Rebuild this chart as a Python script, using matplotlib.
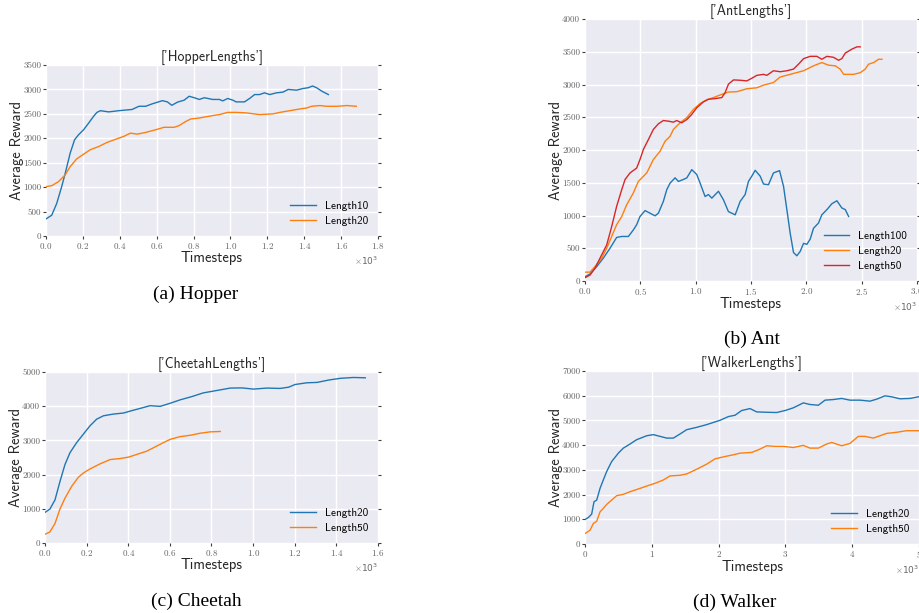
import matplotlib
matplotlib.use("Agg")
import matplotlib.pyplot as plt
from matplotlib.ticker import ScalarFormatter, MultipleLocator

# ---- data (x in timesteps, y in average reward) ----
hopper_x10 = [0, 31, 58, 85, 104, 131, 155, 176, 204, 231, 258, 276, 295, 340, 395, 467, 504, 540,
              576, 631, 658, 682, 713, 749, 776, 804, 831, 858, 904, 940, 958, 985, 1013, 1031, 1076,
              1104, 1131, 1158, 1185, 1213, 1249, 1285, 1313, 1358, 1395, 1422, 1445, 1467, 1495, 1531]
hopper_y10 = [350, 425, 665, 1010, 1280, 1695, 1970, 2070, 2175, 2310, 2450, 2530, 2565, 2540, 2565,
              2590, 2655, 2655, 2705, 2770, 2745, 2675, 2740, 2780, 2860, 2830, 2795, 2830, 2795, 2795,
              2765, 2815, 2780, 2745, 2745, 2815, 2895, 2895, 2930, 2895, 2930, 2945, 3000, 2985, 3020,
              3035, 3070, 3035, 2965, 2895]
hopper_x20 = [0, 31, 67, 104, 131, 167, 204, 240, 285, 331, 385, 422, 458, 495, 540, 595, 640, 695,
              722, 758, 785, 831, 904, 940, 985, 1031, 1085, 1158, 1231, 1267, 1322, 1376, 1413, 1440,
              1485, 1522, 1576, 1631, 1682]
hopper_y20 = [1010, 1030, 1110, 1250, 1420, 1580, 1675, 1765, 1830, 1915, 1990, 2040, 2105, 2085, 2120,
              2175, 2225, 2225, 2260, 2345, 2395, 2415, 2465, 2485, 2530, 2530, 2520, 2485, 2500, 2530,
              2565, 2600, 2620, 2655, 2670, 2655, 2655, 2670, 2655]

ant_x100 = [0, 45, 106, 166, 226, 286, 332, 392, 437, 467, 497, 543, 588, 633, 663, 708, 739, 769, 814,
            844, 889, 920, 965, 1010, 1040, 1085, 1115, 1146, 1206, 1251, 1296, 1357, 1402, 1447, 1477,
            1507, 1538, 1583, 1613, 1658, 1703, 1758, 1794, 1824, 1854, 1884, 1914, 1944, 1975, 2005,
            2035, 2065, 2110, 2140, 2186, 2231, 2276, 2321, 2352, 2382]
ant_y100 = [65, 107, 220, 350, 500, 665, 680, 680, 780, 860, 985, 1075, 1035, 995, 1035, 1215, 1395,
            1495, 1575, 1520, 1550, 1575, 1700, 1625, 1495, 1290, 1320, 1265, 1370, 1240, 1060, 1010,
            1215, 1320, 1520, 1600, 1690, 1600, 1480, 1470, 1650, 1685, 1445, 1090, 730, 435, 385, 450,
            575, 560, 640, 805, 885, 1010, 1090, 1180, 1225, 1115, 1090, 985]
ant_x20 = [0, 45, 90, 151, 196, 241, 286, 332, 377, 437, 482, 558, 618, 678, 724, 769, 799, 859, 920,
           980, 1040, 1100, 1160, 1236, 1296, 1372, 1462, 1553, 1613, 1703, 1764, 1854, 1975, 2065,
           2140, 2200, 2261, 2306, 2337, 2427, 2487, 2532, 2563, 2608, 2653, 2683]
ant_y20 = [135, 135, 220, 350, 500, 680, 860, 985, 1165, 1345, 1520, 1650, 1855, 1980, 2135, 2210, 2315,
           2415, 2495, 2620, 2710, 2765, 2800, 2850, 2885, 2890, 2935, 2950, 2990, 3030, 3115, 3155,
           3210, 3285, 3335, 3295, 3285, 3235, 3155, 3155, 3180, 3235, 3310, 3335, 3385, 3385]
ant_x50 = [0, 45, 90, 151, 196, 241, 286, 332, 362, 407, 467, 497, 528, 573, 618, 663, 708, 754, 799,
           829, 874, 920, 965, 1010, 1070, 1115, 1176, 1236, 1266, 1296, 1342, 1402, 1462, 1507, 1553,
           1613, 1643, 1703, 1764, 1824, 1884, 1929, 1975, 2035, 2095, 2140, 2186, 2246, 2291, 2321,
           2352, 2412, 2457, 2487]
ant_y50 = [50, 90, 195, 400, 550, 830, 1140, 1395, 1550, 1650, 1725, 1855, 2010, 2160, 2315, 2400, 2450,
           2440, 2425, 2450, 2415, 2465, 2545, 2645, 2735, 2775, 2785, 2800, 2875, 3005, 3070, 3065,
           3055, 3095, 3140, 3155, 3140, 3210, 3195, 3210, 3235, 3310, 3395, 3430, 3430, 3385, 3430,
           3415, 3370, 3395, 3480, 3540, 3575, 3575]

cheetah_x20 = [0, 24, 48, 72, 96, 120, 152, 184, 216, 248, 281, 329, 377, 417, 457, 505, 553, 601, 649,
               705, 761, 826, 890, 946, 1002, 1066, 1130, 1170, 1202, 1259, 1307, 1363, 1419, 1483, 1539]
cheetah_y20 = [895, 995, 1260, 1800, 2295, 2640, 2935, 3180, 3425, 3620, 3720, 3770, 3800, 3870, 3935,
               4015, 3995, 4085, 4185, 4280, 4390, 4460, 4530, 4535, 4500, 4530, 4520, 4555, 4635, 4685,
               4695, 4765, 4815, 4840, 4830]
cheetah_x50 = [0, 24, 48, 72, 96, 128, 160, 184, 216, 265, 313, 361, 401, 441, 489, 537, 569, 601, 649,
               698, 746, 794, 842]
cheetah_y50 = [255, 325, 570, 995, 1310, 1655, 1920, 2045, 2165, 2315, 2440, 2470, 2510, 2590, 2685,
               2835, 2935, 3030, 3110, 3150, 3210, 3250, 3260]

walker_x20 = [0, 50, 100, 135, 175, 225, 274, 324, 399, 499, 574, 674, 773, 923, 1023, 1123, 1223, 1322,
              1422, 1522, 1672, 1821, 2021, 2146, 2246, 2345, 2470, 2570, 2720, 2869, 2994, 3119, 3268,
              3368, 3493, 3593, 3717, 3842, 3967, 4117, 4266, 4366, 4491, 4591, 4716, 4865, 4990]
walker_y20 = [990, 1070, 1210, 1710, 1775, 2250, 2590, 2930, 3335, 3675, 3880, 4045, 4220, 4380, 4425,
              4355, 4285, 4285, 4450, 4625, 4720, 4830, 5005, 5155, 5210, 5400, 5480, 5345, 5330, 5320,
              5400, 5510, 5710, 5645, 5615, 5820, 5845, 5890, 5820, 5820, 5780, 5860, 5995, 5955, 5875,
              5890, 5955]
walker_x50 = [0, 75, 125, 175, 225, 274, 324, 399, 474, 574, 674, 823, 973, 1048, 1173, 1272, 1422, 1522,
              1672, 1821, 1946, 2096, 2221, 2320, 2495, 2595, 2720, 2844, 2969, 3119, 3268, 3368, 3493,
              3618, 3693, 3842, 3967, 4092, 4191, 4316, 4416, 4516, 4666, 4815, 5000]
walker_y50 = [420, 555, 830, 920, 1300, 1440, 1600, 1775, 1955, 2010, 2115, 2250, 2390, 2455, 2590, 2755,
              2780, 2835, 3025, 3230, 3445, 3540, 3610, 3675, 3705, 3810, 3975, 3950, 3950, 3905, 3990,
              3880, 3880, 4045, 4110, 3975, 4070, 4355, 4355, 4285, 4380, 4475, 4520, 4585, 4585]

blue, orange, red = "#1f77b4", "#ff7f0e", "#d62728"

plt.rcParams["mathtext.fontset"] = "cm"
plt.rcParams["axes.unicode_minus"] = False

fig = plt.figure(figsize=(9.2, 6.13), dpi=100)
fig.patch.set_facecolor("white")


def make_panel(rect, title, series, xmax, xstep, ymax, ystep):
    ax = fig.add_axes(rect)
    ax.set_facecolor("#EAEAF2")
    for s in ax.spines.values():
        s.set_visible(False)
    ax.grid(True, color="white", linewidth=1.0)
    ax.set_axisbelow(True)
    for xs, ys, c, lab in series:
        ax.plot(xs, ys, color=c, linewidth=1.0, label=lab)
    ax.set_xlim(0, xmax)
    ax.set_ylim(0, ymax)
    ax.xaxis.set_major_locator(MultipleLocator(xstep))
    ax.yaxis.set_major_locator(MultipleLocator(ystep))
    fmt = ScalarFormatter(useMathText=True)
    fmt.set_powerlimits((0, 0))
    ax.xaxis.set_major_formatter(fmt)
    ax.tick_params(axis="both", direction="out", length=2, width=0.8, color="0.25",
                   labelsize=6.5, labelcolor="0.4", pad=1.5, right=True)
    for t in ax.get_xticklabels() + ax.get_yticklabels():
        t.set_fontfamily("cmr10")
    ax.xaxis.get_offset_text().set_fontsize(6.5)
    ax.xaxis.get_offset_text().set_color("0.4")
    ax.set_title(title, family="cmss10", fontsize=10, pad=2, color="0.15")
    ax.set_xlabel("Timesteps", family="cmss10", fontsize=10.5, labelpad=0, color="0.15")
    ax.set_ylabel("Average Reward", family="cmss10", fontsize=10.5, labelpad=-1, color="0.15")
    ax.legend(loc="lower right", frameon=False, prop={"family": "cmss10", "size": 8},
              handlelength=2.3, labelspacing=0.45)
    return ax


make_panel([46 / 920, 1 - 236 / 613, 332 / 920, 171 / 613], "['HopperLengths']",
           [(hopper_x10, hopper_y10, blue, "Length10"),
            (hopper_x20, hopper_y20, orange, "Length20")],
           1800, 200, 3500, 500)
make_panel([585 / 920, 1 - 281 / 613, 332 / 920, 262 / 613], "['AntLengths']",
           [(ant_x100, ant_y100, blue, "Length100"),
            (ant_x20, ant_y20, orange, "Length20"),
            (ant_x50, ant_y50, red, "Length50")],
           3000, 500, 4000, 500)
make_panel([45 / 920, 1 - 543 / 613, 333 / 920, 171 / 613], "['CheetahLengths']",
           [(cheetah_x20, cheetah_y20, blue, "Length20"),
            (cheetah_x50, cheetah_y50, orange, "Length50")],
           1600, 200, 5000, 1000)
make_panel([585 / 920, 1 - 544 / 613, 334 / 920, 173 / 613], "['WalkerLengths']",
           [(walker_x20, walker_y20, blue, "Length20"),
            (walker_x50, walker_y50, orange, "Length50")],
           5000, 1000, 7000, 1000)

# sub-figure captions
cap = dict(family="Liberation Serif", fontsize=14, ha="center", va="center", color="black")
fig.text(196 / 920, 1 - 294 / 613, "(a) Hopper", **cap)
fig.text(752 / 920, 1 - 339 / 613, "(b) Ant", **cap)
fig.text(196 / 920, 1 - 601 / 613, "(c) Cheetah", **cap)
fig.text(735 / 920, 1 - 602 / 613, "(d) Walker", **cap)

fig.savefig("out.png", dpi=100)
